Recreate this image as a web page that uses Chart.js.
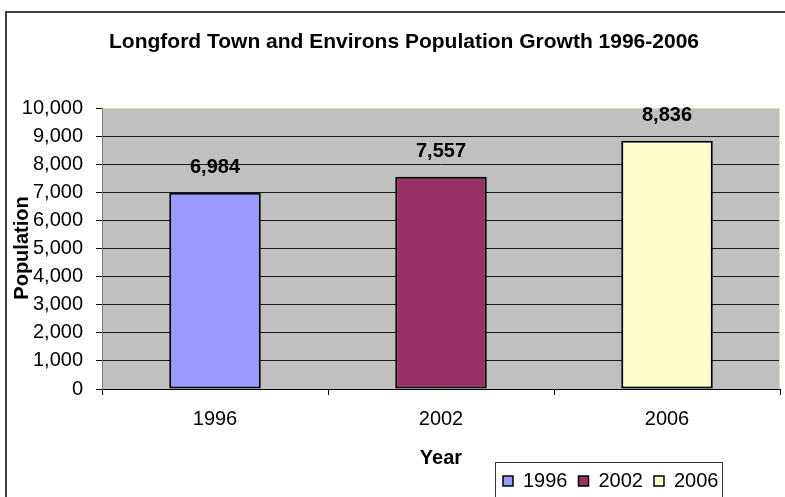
<!DOCTYPE html>
<html>
<head>
<meta charset="utf-8">
<script src="https://cdn.jsdelivr.net/npm/chart.js@4.4.0/dist/chart.umd.min.js"></script>
<style>
html, body { margin: 0; padding: 0; background: #fff; }
#wrap { position: relative; width: 785px; height: 497px; overflow: hidden; }
</style>
</head>
<body>
<div id="wrap"><canvas id="popChart" width="785" height="497"></canvas></div>
<script>
// data
const years = ['1996', '2002', '2006'];
const population = [6984, 7557, 8836];
const barColors = ['#9999FF', '#993366', '#FFFFCC'];
const yTicks = [0, 1000, 2000, 3000, 4000, 5000, 6000, 7000, 8000, 9000, 10000];

const FONT = "'Liberation Sans', Arial, sans-serif";

function fmt(v) {
    return Number(v).toLocaleString('en-US');
}

// frame, plot background, texts, value labels and the boxed legend
const excelLook = {
    id: 'excelLook',
    beforeDraw(chart) {
        const c = chart.ctx, a = chart.chartArea;
        c.save();
        c.fillStyle = '#fff';
        c.fillRect(0, 0, chart.width, chart.height);
        c.strokeStyle = '#404040';
        c.lineWidth = 2;
        c.strokeRect(6, 12, 900, 600);
        c.fillStyle = '#C0C0C0';
        c.fillRect(a.left, a.top, a.right - a.left, a.bottom - a.top);
        c.restore();
    },
    afterDraw(chart) {
        const c = chart.ctx, a = chart.chartArea;
        c.save();
        // right edge of plot area
        c.strokeStyle = '#e0e0a8';
        c.lineWidth = 1;
        c.beginPath();
        c.moveTo(a.right - 0.5, a.top);
        c.lineTo(a.right - 0.5, a.bottom);
        c.stroke();

        c.fillStyle = '#000';
        c.textAlign = 'center';
        c.textBaseline = 'middle';
        c.font = 'bold 21px ' + FONT;
        c.fillText('Longford Town and Environs Population Growth 1996-2006', 404, 42);
        c.font = 'bold 20px ' + FONT;
        c.fillText('Year', 441, 458);
        c.save();
        c.translate(22, 248);
        c.rotate(-Math.PI / 2);
        c.fillText('Population', 0, 0);
        c.restore();

        // value labels above bars
        const meta = chart.getDatasetMeta(0);
        meta.data.forEach((bar, i) => {
            c.fillText(fmt(population[i]), bar.x, bar.y - 25);
        });

        // legend
        c.strokeStyle = '#333';
        c.lineWidth = 1;
        c.strokeRect(495.5, 462.5, 227, 60);
        c.font = '20px ' + FONT;
        c.textAlign = 'left';
        let x = 503;
        years.forEach((y, i) => {
            c.fillStyle = barColors[i];
            c.fillRect(x, 476, 10, 10);
            c.strokeStyle = '#000';
            c.lineWidth = 1.5;
            c.strokeRect(x, 476, 10, 10);
            c.fillStyle = '#000';
            c.fillText(y, x + 20, 481);
            x += 20 + c.measureText(y).width + 11;
        });
        c.restore();
    }
};

new Chart(document.getElementById('popChart'), {
    type: 'bar',
    data: {
        labels: years,
        datasets: [{
            data: population,
            backgroundColor: barColors,
            borderColor: '#000',
            borderWidth: 2,
            borderSkipped: false,
            categoryPercentage: 1,
            barPercentage: 0.405
        }]
    },
    options: {
        responsive: false,
        animation: false,
        devicePixelRatio: 1,
        layout: { padding: { top: 108, right: 5, left: 0, bottom: 0 } },
        plugins: {
            legend: { display: false },
            title: { display: false },
            tooltip: { enabled: false }
        },
        scales: {
            x: {
                offset: true,
                grid: { offset: true, drawOnChartArea: false, tickLength: 6, tickColor: '#000' },
                border: { display: true, color: '#000', width: 1 },
                ticks: { color: '#000', font: { family: FONT, size: 20 }, padding: 12 },
                afterFit(s) { s.height = 108; }
            },
            y: {
                min: 0,
                max: 10000,
                afterBuildTicks(s) { s.ticks = yTicks.map(v => ({ value: v })); },
                grid: {
                    color: ctx => (ctx.tick && ctx.tick.value === 10000) ? '#e0e0a8' : '#1a1a1a',
                    tickColor: '#000',
                    tickLength: 6,
                    lineWidth: 1
                },
                border: { display: true, color: '#808066', width: 1 },
                ticks: {
                    color: '#000',
                    font: { family: FONT, size: 20 },
                    padding: 13,
                    callback: v => fmt(v)
                },
                afterFit(s) { s.width = 102; }
            }
        }
    },
    plugins: [excelLook]
});
</script>
</body>
</html>
